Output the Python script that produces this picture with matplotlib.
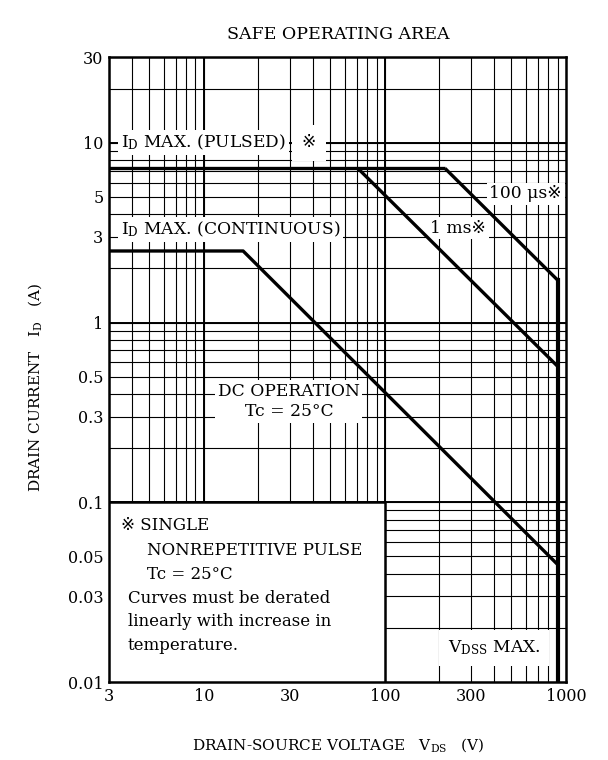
import matplotlib

matplotlib.use("Agg")
import matplotlib.pyplot as plt
import numpy as np
from matplotlib import ticker
from matplotlib.patches import Rectangle

plt.rcParams["font.family"] = ["DejaVu Serif", "DejaVu Sans", "Noto Sans CJK JP"]
plt.rcParams["mathtext.fontset"] = "dejavuserif"

# safe operating area curves (V, A)
dc_v = [3, 16.5, 900]
dc_i = [2.5, 2.5, 0.045]
pulsed_v = [3, 215]
pulsed_i = [7.2, 7.2]
ms1_v = [71, 900]
ms1_i = [7.2, 0.57]
us100_v = [215, 900]
us100_i = [7.2, 1.72]
vdss_v = [900, 900]
vdss_i = [0.01, 1.72]

x_ticks = [3, 10, 30, 100, 300, 1000]
x_labels = ["3", "10", "30", "100", "300", "1000"]
y_ticks = [0.01, 0.03, 0.05, 0.1, 0.3, 0.5, 1, 3, 5, 10, 30]
y_labels = ["0.01", "0.03", "0.05", "0.1", "0.3", "0.5", "1", "3", "5", "10", "30"]

fig = plt.figure(figsize=(6.08, 7.6), dpi=100)
ax = fig.add_axes([0.1793, 0.1026, 0.7516, 0.8224])
ax.set_xscale("log")
ax.set_yscale("log")
ax.set_xlim(3, 1000)
ax.set_ylim(0.01, 30)

ax.xaxis.set_major_locator(ticker.FixedLocator(x_ticks))
ax.xaxis.set_major_formatter(ticker.FixedFormatter(x_labels))
ax.yaxis.set_major_locator(ticker.FixedLocator(y_ticks))
ax.yaxis.set_major_formatter(ticker.FixedFormatter(y_labels))
ax.xaxis.set_minor_locator(ticker.LogLocator(base=10, subs=np.arange(1, 10), numticks=30))
ax.yaxis.set_minor_locator(ticker.LogLocator(base=10, subs=np.arange(1, 10), numticks=30))
ax.xaxis.set_minor_formatter(ticker.NullFormatter())
ax.yaxis.set_minor_formatter(ticker.NullFormatter())
ax.tick_params(which="both", length=0, labelsize=11.5, pad=4)
ax.set_axisbelow(True)
ax.grid(which="both", color="black", lw=0.8)
for d in [10, 100]:
    ax.axvline(d, color="black", lw=1.4, zorder=0.6)
for d in [0.1, 1, 10]:
    ax.axhline(d, color="black", lw=1.4, zorder=0.6)
for s in ax.spines.values():
    s.set_linewidth(1.8)

curve = dict(color="black", lw=2.4, zorder=5, solid_capstyle="butt")
ax.plot(dc_v, dc_i, **curve)
ax.plot(pulsed_v, pulsed_i, **curve)
ax.plot(ms1_v, ms1_i, **curve)
ax.plot(us100_v, us100_i, **curve)
ax.plot(vdss_v, vdss_i, color="black", lw=3, zorder=5)

box = dict(facecolor="white", edgecolor="none", pad=2)
fs = 12.3
ax.text(38, 10, "※", fontsize=fs, ha="center", va="center",
        bbox=dict(facecolor="white", edgecolor="none", pad=7), zorder=4)
ax.text(3.5, 10, r"I$_\mathregular{D}$ MAX. (PULSED)", fontsize=fs, ha="left",
        va="center", bbox=box, zorder=4)
ax.text(3.5, 3.3, r"I$_\mathregular{D}$ MAX. (CONTINUOUS)", fontsize=fs, ha="left",
        va="center", bbox=box, zorder=4)
ax.text(378, 5.2, "100 μs※", fontsize=fs, ha="left", va="center", bbox=box, zorder=4)
ax.text(178, 3.35, "1 ms※", fontsize=fs, ha="left", va="center", bbox=box, zorder=4)
ax.text(29.5, 0.365, "DC OPERATION\nTc = 25°C", fontsize=fs, ha="center",
        va="center", linespacing=1.25, bbox=box, zorder=4)
ax.text(400, 0.0155, r"V$_\mathregular{DSS}$ MAX.", fontsize=fs, ha="center",
        va="center", bbox=dict(facecolor="white", edgecolor="none", pad=6), zorder=4)

ax.add_patch(Rectangle((3, 0.01), 97, 0.09, facecolor="white", edgecolor="black",
                       lw=1.8, zorder=3))
note = dict(fontsize=12, ha="left", va="center", zorder=4)
ax.text(3.5, 0.0745, "※ SINGLE", **note)
ax.text(4.87, 0.0541, "NONREPETITIVE PULSE", **note)
ax.text(4.87, 0.0394, "Tc = 25°C", **note)
ax.text(3.8, 0.0293, "Curves must be derated", **note)
ax.text(3.8, 0.0216, "linearly with increase in", **note)
ax.text(3.8, 0.0159, "temperature.", **note)

fig.text(0.556, 0.954, "SAFE OPERATING AREA", fontsize=12.5, ha="center", va="center")
fig.text(0.556, 0.02, r"DRAIN-SOURCE VOLTAGE   V$_\mathregular{DS}$   (V)",
         fontsize=11, ha="center", va="center")
fig.text(0.058, 0.49, r"DRAIN CURRENT   I$_\mathregular{D}$   (A)", fontsize=11,
         ha="center", va="center", rotation=90)

fig.savefig("out.png", dpi=100)
